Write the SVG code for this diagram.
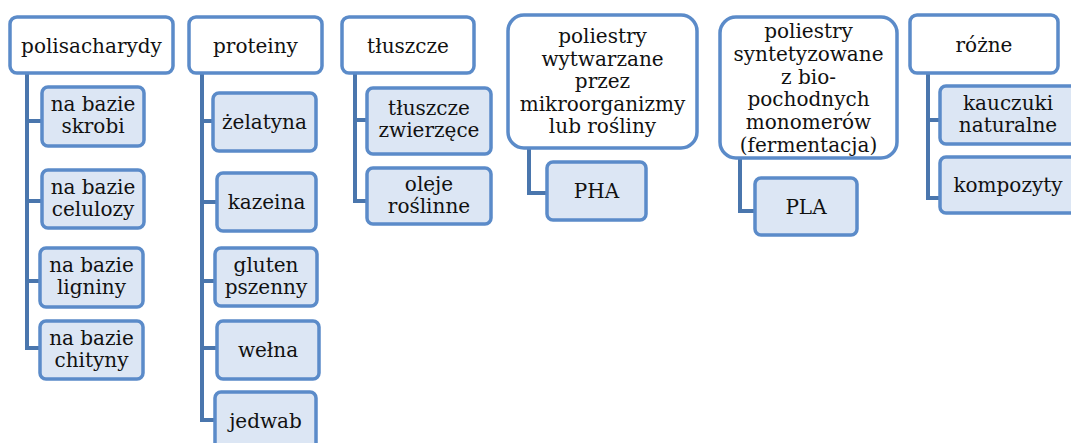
<svg xmlns="http://www.w3.org/2000/svg" width="1071" height="443" viewBox="0 0 1071 443">
<style>
.p{fill:#ffffff;stroke:#5b8bc9;stroke-width:3.5}
.c{fill:#dce6f4;stroke:#5b8bc9;stroke-width:3.5}
.l{fill:none;stroke:#4a76ad;stroke-width:4;stroke-linejoin:miter}
text{font-size:20px;fill:#111;text-anchor:middle}
</style>
<rect width="1071" height="443" fill="#ffffff"/>
<g id="connectors">
<path class="l" d="M27 73V348H40M27 121H42M27 201H42M27 281H40"/>
<path class="l" d="M202 73V420H215M202 121H213M202 202H217M202 281H215M202 348H217"/>
<path class="l" d="M355 73V201H367M355 120H367"/>
<path class="l" d="M529 148V193H547"/>
<path class="l" d="M740 158V211H755"/>
<path class="l" d="M928 73V198H940M928 120H940"/>
</g>
<g font-family="'DejaVu Serif', 'Liberation Serif', serif">
<g id="polisacharydy"><rect class="p" x="10" y="17" width="163" height="56" rx="7"/><text x="91.5" y="53">polisacharydy</text></g>
<g id="proteiny"><rect class="p" x="189" y="17" width="133" height="56" rx="7"/><text x="255.5" y="53">proteiny</text></g>
<g id="tluszcze"><rect class="p" x="342" y="17" width="132" height="56" rx="7"/><text x="408" y="53">tłuszcze</text></g>
<g id="poliestry-wytwarzane"><rect class="p" x="508" y="15" width="189" height="133" rx="16"/><text x="602.5" y="43">poliestry<tspan x="602.5" dy="22.5">wytwarzane</tspan><tspan x="602.5" dy="22.5">przez</tspan><tspan x="602.5" dy="22.5">mikroorganizmy</tspan><tspan x="602.5" dy="22.5">lub rośliny</tspan></text></g>
<g id="poliestry-syntetyzowane"><rect class="p" x="720" y="17" width="177" height="141" rx="16"/><text x="808.5" y="38">poliestry<tspan x="808.5" dy="22.8">syntetyzowane</tspan><tspan x="808.5" dy="22.8">z bio-</tspan><tspan x="808.5" dy="22.8">pochodnych</tspan><tspan x="808.5" dy="22.8">monomerów</tspan><tspan x="808.5" dy="22.8">(fermentacja)</tspan></text></g>
<g id="rozne"><rect class="p" x="910" y="15" width="148" height="58" rx="7"/><text x="984" y="52">różne</text></g>
<g id="skrobi"><rect class="c" x="42" y="87" width="102" height="59" rx="6"/><text x="93" y="111">na bazie<tspan x="93" dy="22">skrobi</tspan></text></g>
<g id="celulozy"><rect class="c" x="42" y="170" width="102" height="58" rx="6"/><text x="93" y="194">na bazie<tspan x="93" dy="22">celulozy</tspan></text></g>
<g id="ligniny"><rect class="c" x="40" y="248" width="103" height="59" rx="6"/><text x="91.5" y="272">na bazie<tspan x="91.5" dy="22">ligniny</tspan></text></g>
<g id="chityny"><rect class="c" x="40" y="321" width="103" height="58" rx="6"/><text x="91.5" y="345">na bazie<tspan x="91.5" dy="22">chityny</tspan></text></g>
<g id="zelatyna"><rect class="c" x="213" y="93" width="103" height="58" rx="6"/><text x="264.5" y="129">żelatyna</text></g>
<g id="kazeina"><rect class="c" x="217" y="173" width="99" height="58" rx="6"/><text x="266.5" y="209">kazeina</text></g>
<g id="gluten"><rect class="c" x="215" y="248" width="102" height="58" rx="6"/><text x="266" y="272">gluten<tspan x="266" dy="22">pszenny</tspan></text></g>
<g id="welna"><rect class="c" x="217" y="321" width="102" height="58" rx="6"/><text x="268" y="357">wełna</text></g>
<g id="jedwab"><rect class="c" x="215" y="392" width="101" height="58" rx="6"/><text x="265.5" y="428">jedwab</text></g>
<g id="tluszcze-zwierzece"><rect class="c" x="367" y="88" width="124" height="66" rx="6"/><text x="429" y="115">tłuszcze<tspan x="429" dy="22">zwierzęce</tspan></text></g>
<g id="oleje"><rect class="c" x="367" y="168" width="124" height="56" rx="6"/><text x="429" y="191">oleje<tspan x="429" dy="22">roślinne</tspan></text></g>
<g id="pha"><rect class="c" x="547" y="162" width="99" height="58" rx="6"/><text x="596.5" y="198">PHA</text></g>
<g id="pla"><rect class="c" x="755" y="178" width="102" height="57" rx="6"/><text x="806" y="214">PLA</text></g>
<g id="kauczuki"><rect class="c" x="940" y="86" width="136" height="58" rx="6"/><text x="1008" y="110">kauczuki<tspan x="1008" dy="22">naturalne</tspan></text></g>
<g id="kompozyty"><rect class="c" x="940" y="157" width="136" height="56" rx="6"/><text x="1008" y="192">kompozyty</text></g>
</g>
</svg>
